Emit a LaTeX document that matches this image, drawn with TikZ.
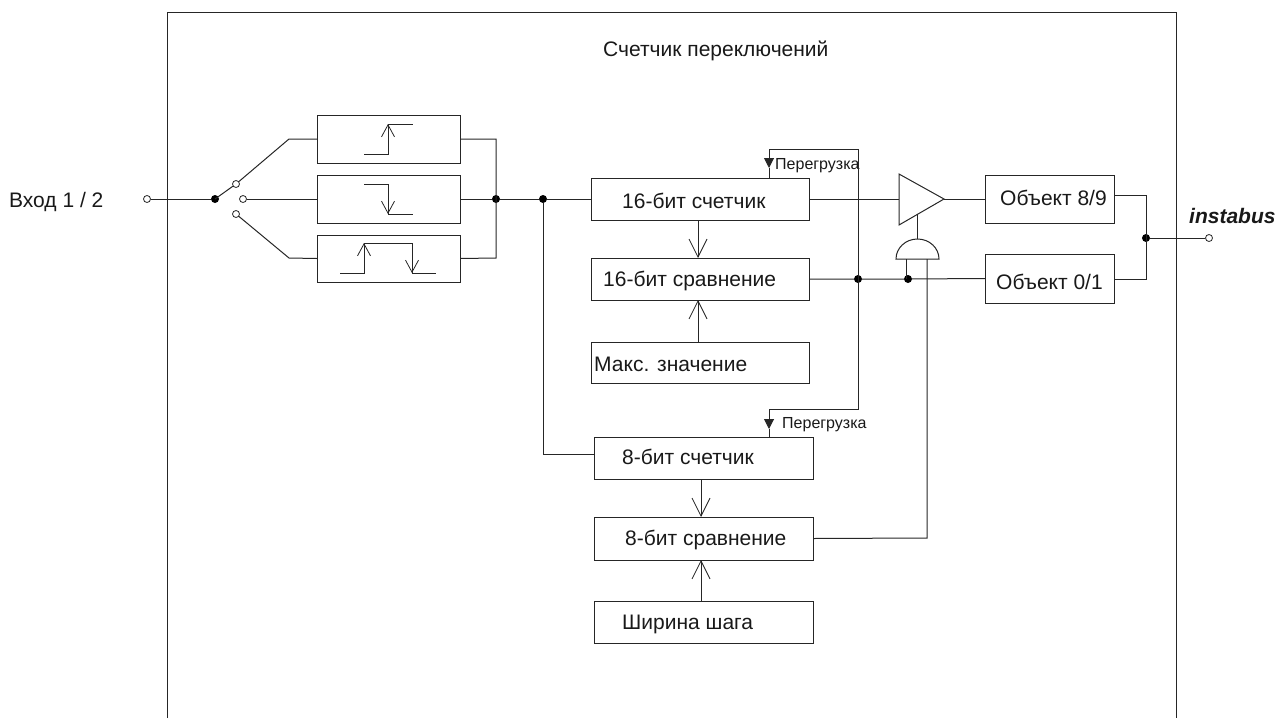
\documentclass[tikz,border=0pt]{standalone}
\usepackage{fontspec}
\setmainfont{Liberation Sans}
\usetikzlibrary{arrows.meta,calc}
\tikzset{
  wire/.style={line width=1pt,draw=black!85},
  blockbox/.style={draw=black!85,line width=1pt,inner sep=0pt,outer sep=0pt},
  lbl/.style={anchor=base west,inner sep=0pt,font=\fontsize{21}{24}\selectfont,text=black!90},
  smalllbl/.style={anchor=base west,inner sep=0pt,font=\fontsize{16}{18}\selectfont,text=black!90},
  dot/.style={circle,fill=black,inner sep=0pt,minimum size=8pt},
  port/.style={circle,draw=black!85,fill=white,line width=0.8pt,inner sep=0pt,minimum size=7pt},
  openarrow/.style={wire,-{Straight Barb[length=18pt,width=18pt,line width=0.8pt]}},
  edgearrow/.style={wire,-{Straight Barb[length=12pt,width=13pt,line width=0.8pt]}},
  fillarrow/.style={wire,-{Triangle[length=10pt,width=10pt]}}
}
% name, x1, y1, x2, y2
\newcommand{\blk}[5]{\path let \n1={#4-#2},\n2={#5-#3} in
  node[blockbox,minimum width=\n1 pt,minimum height=\n2 pt] (#1) at ({(#2+#4)/2},{(#3+#5)/2}) {};}
\begin{document}
\begin{tikzpicture}[x=1pt,y=-1pt]
\useasboundingbox (0,0) rectangle (1284,718);
% frame
\coordinate (fa) at (167,718);
\coordinate (fb) at (167,12);
\coordinate (fc) at (1176,12);
\coordinate (fd) at (1176,718);
\draw[wire] (fa) -- (fb) -- (fc) -- (fd);
% blocks
\blk{e1}{317}{115}{460}{163}
\blk{e2}{317}{175}{460}{223}
\blk{e3}{317}{235}{460}{282}
\blk{c16}{591}{178}{809}{220}
\blk{k16}{591}{258}{809}{300}
\blk{max}{591}{342}{809}{383}
\blk{c8}{594}{437}{813}{479}
\blk{k8}{594}{517}{813}{560}
\blk{st}{594}{601}{813}{643}
\blk{o89}{985}{175}{1114}{223}
\blk{o01}{985}{254}{1114}{303}
% texts
\node[lbl] (t0) at (603,56) {Счетчик переключений};
\node[lbl] (t1) at (9,207) {Вход 1 / 2};
\node[lbl,font=\fontsize{21}{24}\selectfont\bfseries\itshape] (t2) at (1189,223) {instabus};
\node[lbl] (t3) at (622,208) {16-бит счетчик};
\node[lbl] (t4) at (603,286) {16-бит сравнение};
\node[lbl] (t5) at (594,371) {Макс. значение};
\node[lbl] (t6) at (622,464) {8-бит счетчик};
\node[lbl] (t7) at (625,545) {8-бит сравнение};
\node[lbl] (t8) at (622,629) {Ширина шага};
\node[lbl] (t9) at (1000,205) {Объект 8/9};
\node[lbl] (t10) at (996,289) {Объект 0/1};
\node[smalllbl] (t11) at (775,169) {Перегрузка};
\node[smalllbl] (t12) at (782,428) {Перегрузка};
% switch
\node[port] (in) at (147,199) {};
\node[dot] (j0) at (215,199) {};
\node[port] (s1) at (236,184) {};
\node[port] (s2) at (243,199) {};
\node[port] (s3) at (236,214) {};
\coordinate (b1) at (289,139);
\coordinate (b3) at (289,258);
\draw[wire] (in) -- (j0);
\draw[wire] (j0.center) -- (s1);
\draw[wire] (s1) -- (b1) -- (e1.west);
\draw[wire] (s2) -- (e2.west);
\draw[wire] (s3) -- (b3) -- (e3.west);
% edge combine
\node[dot] (j1) at (496,199) {};
\node[dot] (j2) at (543,199) {};
\coordinate (r1) at (496,139);
\coordinate (r3) at (496,258);
\draw[wire] (e1.east) -- (r1) -- (r3) -- (e3.east);
\draw[wire] (e2.east) -- (j1) -- (j2) -- (c16.west);
\coordinate (l8a) at (543,454);
\coordinate (l8b) at (594,454);
\draw[wire] (j2) -- (l8a) -- (l8b);
% edge glyphs
\coordinate (g1) at (364,154); \coordinate (g2) at (388,154); \coordinate (g3) at (388,124); \coordinate (g4) at (413,124);
\draw[wire] (g1) -- (g2) -- (g3) -- (g4);
\draw[edgearrow] (g2) -- (g3);
\coordinate (h1) at (364,184); \coordinate (h2) at (388,184); \coordinate (h3) at (388,214); \coordinate (h4) at (413,214);
\draw[wire] (h1) -- (h2) -- (h3) -- (h4);
\draw[edgearrow] (h2) -- (h3);
\coordinate (i1) at (340,273); \coordinate (i2) at (364,273); \coordinate (i3) at (364,243);
\coordinate (i4) at (412,243); \coordinate (i5) at (412,273); \coordinate (i6) at (436,273);
\draw[wire] (i1) -- (i2) -- (i3) -- (i4) -- (i5) -- (i6);
\draw[edgearrow] (i2) -- (i3);
\draw[edgearrow] (i4) -- (i5);
% vertical arrows
\coordinate (a1) at (698,220); \coordinate (a2) at (698,258);
\coordinate (a3) at (698,342); \coordinate (a4) at (698,300);
\coordinate (a5) at (701,479); \coordinate (a6) at (701,517);
\coordinate (a7) at (701,601); \coordinate (a8) at (701,560);
\draw[openarrow] (a1) -- (a2);
\draw[openarrow] (a3) -- (a4);
\draw[openarrow] (a5) -- (a6);
\draw[openarrow] (a7) -- (a8);
% overload feedback
\node[dot] (j3) at (858,279) {};
\coordinate (f1) at (858,149);
\coordinate (f2) at (769,149);
\coordinate (f3) at (769,168);
\coordinate (f4) at (769,178);
\coordinate (f5) at (858,409);
\coordinate (f6) at (769,409);
\coordinate (f7) at (769,429);
\coordinate (f8) at (769,437);
\draw[fillarrow] (j3.center) -- (f1) -- (f2) -- (f3);
\draw[wire] (f3) -- (f4);
\draw[fillarrow] (j3.center) -- (f5) -- (f6) -- (f7);
\draw[wire] (f7) -- (f8);
% amplifier
\coordinate (amp1) at (899,174);
\coordinate (amp2) at (899,225);
\coordinate (amp3) at (944,199);
\draw[wire,line join=miter] (amp1) -- (amp2) -- (amp3) -- cycle;
\coordinate (ampin) at (899,199);
\draw[wire] (c16.east) -- (ampin);
\draw[wire] (amp3) -- (o89.west);
% AND gate
\coordinate (g0) at (896,259);
\coordinate (gt) at (917.5,239);
\coordinate (gs) at (917.5,214.5);
\draw[wire] (g0) arc[start angle=180,end angle=0,x radius=21.5pt,y radius=20pt] -- cycle;
\draw[wire] (gt) -- (gs);
\node[dot] (j4) at (908,279) {};
\coordinate (g1a) at (906.5,259);
\coordinate (g1b) at (906.5,279);
\draw[wire] (g1a) -- (g1b);
\coordinate (g2a) at (927,259);
\coordinate (g2b) at (927,538);
\draw[wire] (g2a) -- (g2b) -- (k8.east);
\draw[wire] (k16.east) -- (j3) -- (j4) -- (o01.west);
% output
\node[dot] (j5) at (1146,238) {};
\node[port] (out) at (1209,238) {};
\coordinate (o1) at (1146,195);
\coordinate (o1e) at (1114,195);
\coordinate (o2) at (1146,279);
\coordinate (o2e) at (1114,279);
\draw[wire] (o1e) -- (o1) -- (o2) -- (o2e);
\draw[wire] (j5) -- (out);
\end{tikzpicture}
\end{document}
